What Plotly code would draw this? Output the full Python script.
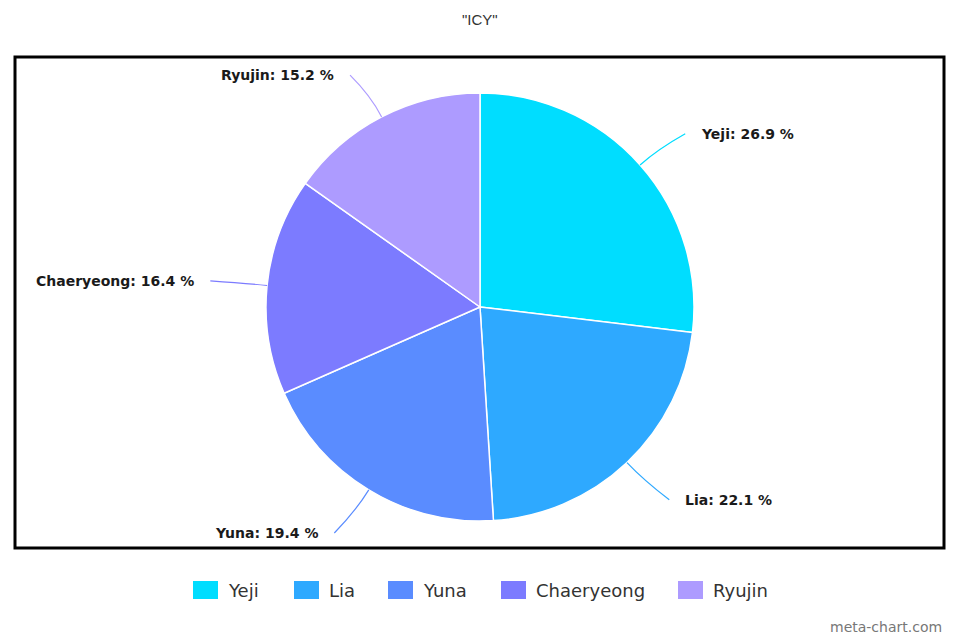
import math
import plotly.graph_objects as go

labels = ["Yeji", "Lia", "Yuna", "Chaeryeong", "Ryujin"]
values = [26.9, 22.1, 19.4, 16.4, 15.2]
colors = ["#00DDFF", "#2EA9FF", "#5A8CFF", "#7C7BFF", "#AD9BFF"]
title_text = '"ICY"'
watermark = "meta-chart.com"

# page layout (page pixels); the figure sits at an 8px body offset
OFF = 8
W, H = 960 - OFF, 640 - OFF
CX, CY, R = 480, 307, 214
LABEL_R = 261
legend_x = [193, 294, 388, 501, 678]   # swatch left edges (layout)
LEGEND_Y = 590


def px(x):
    return (x - OFF) / W


def py(y):
    return 1 - (y - OFF) / H


fig = go.Figure(go.Pie(
    labels=labels, values=values,
    marker=dict(colors=colors, line=dict(color="white", width=1.5)),
    sort=False, direction="clockwise", rotation=0, textinfo="none",
    hoverinfo="label+percent", showlegend=False,
    domain=dict(x=[px(CX - R), px(CX + R)], y=[py(CY + R), py(CY - R)]),
))

shapes = [dict(type="rect", xref="paper", yref="paper", x0=px(15), x1=px(944),
               y0=py(548), y1=py(57), line=dict(color="black", width=3))]
annotations = []
total = sum(values)
cum = 0
for lab, v, c in zip(labels, values, colors):
    mid = (cum + v / 2) / total * 2 * math.pi
    cum += v
    s, co = math.sin(mid), math.cos(mid)
    ex, ey = CX + R * s, CY - R * co
    cx_, cy_ = CX + (R + 24) * s, CY - (R + 24) * co
    ax, ay = CX + LABEL_R * s, CY - LABEL_R * co + (3 if co < 0 else 0)
    side = 1 if s >= 0 else -1
    endx = ax + side * 10
    path = "M {} {} Q {} {} {} {}".format(px(ex), py(ey), px(cx_), py(cy_), px(endx), py(ay))
    shapes.append(dict(type="path", xref="paper", yref="paper", path=path,
                       line=dict(color=c, width=1.2)))
    pct = v / total * 100
    annotations.append(dict(
        x=px(ax + side * 24), y=py(ay), xref="paper", yref="paper", showarrow=False,
        text="<b>{}: {:.1f} %</b>".format(lab, pct),
        xanchor="left" if side > 0 else "right", yanchor="middle",
        font=dict(family="DejaVu Sans", size=14, color="#1a1a1a")))

# custom legend
for lab, c, lx in zip(labels, colors, legend_x):
    shapes.append(dict(type="rect", xref="paper", yref="paper", x0=px(lx), x1=px(lx + 25),
                       y0=py(LEGEND_Y + 9), y1=py(LEGEND_Y - 9), fillcolor=c, line=dict(width=0)))
    annotations.append(dict(x=px(lx + 33), y=py(LEGEND_Y), xref="paper", yref="paper",
                            showarrow=False, text=lab, xanchor="left", yanchor="middle",
                            font=dict(family="DejaVu Sans", size=18, color="#333")))

annotations.append(dict(x=px(944), y=py(627), xref="paper", yref="paper", showarrow=False,
                        text=watermark, xanchor="right", yanchor="middle",
                        font=dict(family="DejaVu Sans", size=14, color="#777")))
annotations.append(dict(x=px(480), y=py(20), xref="paper", yref="paper", showarrow=False,
                        text=title_text, xanchor="center", yanchor="middle",
                        font=dict(family="Liberation Sans", size=15, color="#333")))

fig.update_layout(
    width=W, height=H, margin=dict(l=0, r=0, t=0, b=0), paper_bgcolor="white",
    shapes=shapes, annotations=annotations, showlegend=False,
)
fig.write_html("out.html")
